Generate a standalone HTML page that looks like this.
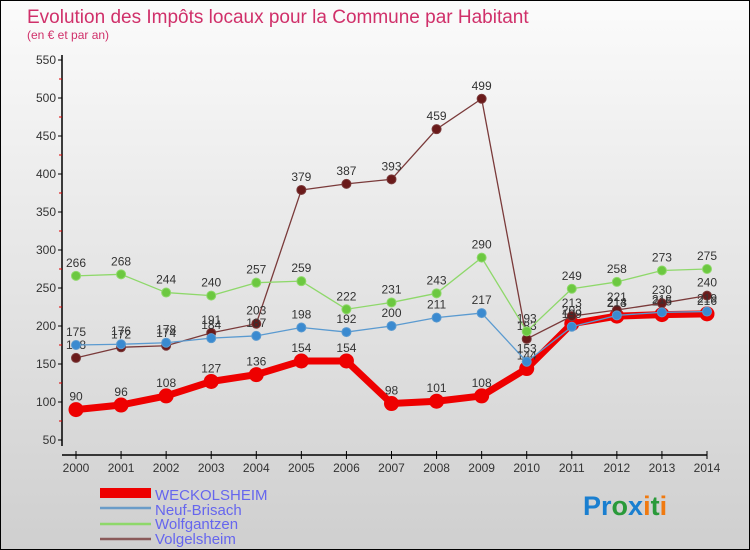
<!DOCTYPE html>
<html><head><meta charset="utf-8"><style>
body{margin:0}
#c{width:750px;height:550px;position:relative;overflow:hidden}
svg text{font-family:"Liberation Sans",sans-serif}
</style></head><body>
<div id="c">
<svg id="s" width="750" height="550" xmlns="http://www.w3.org/2000/svg">
<defs><linearGradient id="bg" x1="0" y1="0" x2="0" y2="1"><stop offset="0" stop-color="#fbfbfb"/><stop offset="1" stop-color="#cfcfcf"/></linearGradient></defs>
<rect x="0.5" y="0.5" width="749" height="549" fill="url(#bg)" stroke="#000"/>
<text x="27" y="23" font-size="19" fill="#d0306a">Evolution des Impôts locaux pour la Commune par Habitant</text>
<text x="27" y="39" font-size="12" fill="#d0306a">(en € et par an)</text>
<g id="axes"></g><g id="series"></g>
<g>
<rect x="100" y="488" width="51" height="10" fill="#e00"/>
<text x="155" y="500" font-size="15" fill="#6666ee">WECKOLSHEIM</text>
<line x1="100" y1="508" x2="151" y2="508" stroke="#6a9cc8" stroke-width="2.5"/>
<text x="155" y="515" font-size="15" fill="#6666ee">Neuf-Brisach</text>
<line x1="100" y1="524" x2="151" y2="524" stroke="#8ed86a" stroke-width="2.5"/>
<text x="155" y="529" font-size="15" fill="#6666ee">Wolfgantzen</text>
<line x1="100" y1="539" x2="151" y2="539" stroke="#8a5a5a" stroke-width="2.5"/>
<text x="155" y="544" font-size="15" fill="#6666ee">Volgelsheim</text>
</g>
<text x="583" y="515" font-size="27" font-weight="bold"><tspan fill="#1a7fd0">Pr</tspan><tspan fill="#2a9a3a">o</tspan><tspan fill="#1a7fd0">x</tspan><tspan fill="#f07a10">i</tspan><tspan fill="#2a9a3a">t</tspan><tspan fill="#f07a10">i</tspan></text>
</svg></div>
<script>
const years=[2000,2001,2002,2003,2004,2005,2006,2007,2008,2009,2010,2011,2012,2013,2014];
const yTicks=[50,100,150,200,250,300,350,400,450,500,550];
const weckolsheim=[90,96,108,127,136,154,154,98,101,108,144,203,213,215,216];
const neufBrisach=[175,176,178,184,187,198,192,200,211,217,153,199,214,218,219];
const wolfgantzen=[266,268,244,240,257,259,222,231,243,290,193,249,258,273,275];
const volgelsheim=[158,172,174,191,203,379,387,393,459,499,183,213,221,230,240];
const NS="http://www.w3.org/2000/svg";
const x=i=>76+i*(707-76)/(years.length-1);
const y=v=>440-(v-50)*(440-60)/500;
function mk(p,t,a){const e=document.createElementNS(NS,t);for(const k in a)e.setAttribute(k,a[k]);p.appendChild(e);return e;}
const ax=document.getElementById('axes'),sg=document.getElementById('series');
let l=mk(ax,'line',{x1:62,y1:55,x2:62,y2:446,stroke:'#000','stroke-width':1.5});


l=mk(ax,'line',{x1:62,y1:455,x2:707,y2:455,stroke:'#000','stroke-width':1.5});


yTicks.forEach((v,i)=>{
  mk(ax,'line',{x1:58,y1:y(v),x2:62,y2:y(v),stroke:'#000'});
  if(i<yTicks.length-1)mk(ax,'line',{x1:59,y1:y(v+25),x2:62,y2:y(v+25),stroke:'#d00'});
  const t=mk(ax,'text',{x:56,y:y(v)+4,'font-size':12,'text-anchor':'end',fill:'#333'});t.textContent=v;
  
  
});
years.forEach((yr,i)=>{
  mk(ax,'line',{x1:x(i),y1:451,x2:x(i),y2:459,stroke:'#000'});
  const t=mk(ax,'text',{x:x(i),y:472,'font-size':12,'text-anchor':'middle',fill:'#333'});t.textContent=yr;
  
  
});
function series(d,col,dot,w,r,name){
  const g=mk(sg,'g',{});
  
  
  mk(g,'polyline',{points:d.map((v,i)=>x(i)+','+y(v)).join(' '),fill:'none',stroke:col,'stroke-width':w,'stroke-linejoin':'round'});
  d.forEach((v,i)=>{
    const c=mk(g,'circle',{cx:x(i),cy:y(v),r:r,fill:dot,stroke:col,'stroke-width':1});
    
    
    const t=mk(g,'text',{x:x(i),y:y(v)-9,'font-size':12,'text-anchor':'middle',fill:'#333'});t.textContent=v;
    
    
  });
}
series(weckolsheim,'#e00','#e00',7,7,'weckolsheim');
series(volgelsheim,'#7a3a3a','#6a1a1a',1.3,4.5,'volgelsheim');
series(wolfgantzen,'#8ed86a','#6cc840',1.3,4.5,'wolfgantzen');
series(neufBrisach,'#5a9ad0','#3a8ad0',1.3,4.5,'neuf-brisach');
</script>
</body></html>
